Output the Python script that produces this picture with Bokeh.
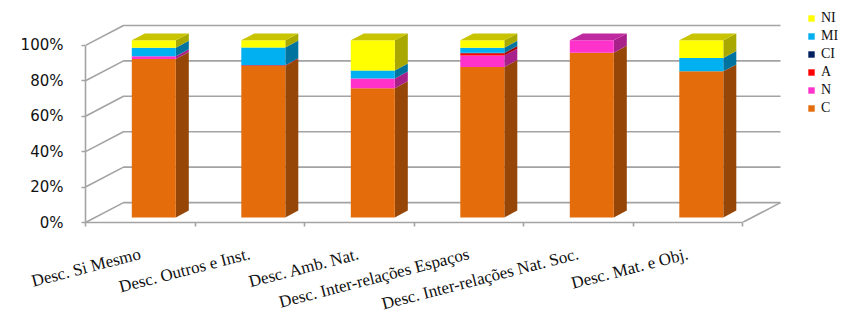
from bokeh.plotting import figure
from bokeh.models import Range1d, FixedTicker, Legend, LegendItem
from bokeh.embed import file_html
from bokeh.resources import INLINE
import math

# ---- data -------------------------------------------------------------
categories = ["Desc. Si Mesmo", "Desc. Outros e Inst.", "Desc. Amb. Nat.",
              "Desc. Inter-relações Espaços", "Desc. Inter-relações Nat. Soc.",
              "Desc. Mat. e Obj."]
series_names = ["C", "N", "A", "CI", "MI", "NI"]          # bottom -> top
C = [89.5, 85.5, 73.0, 85.0, 93.0, 82.5]
N = [1.5, 0.0, 5.5, 6.4, 7.0, 0.0]
A = [0.0, 0.5, 0.0, 1.3, 0.0, 0.0]
CI = [0.0, 0.0, 0.0, 0.3, 0.0, 0.0]
MI = [4.8, 10.0, 4.5, 2.8, 0.0, 7.5]
NI = [4.2, 4.0, 17.0, 4.2, 0.0, 10.0]
series_values = [C, N, A, CI, MI, NI]
y_ticks = [0, 20, 40, 60, 80, 100]
y_tick_labels = ["0%", "20%", "40%", "60%", "80%", "100%"]

# ---- styling ----------------------------------------------------------
front_colors = ["#E46C0A", "#FF33CC", "#FF0000", "#002060", "#00B0F0", "#FFFF00"]
side_colors = ["#964607", "#A8208A", "#A80000", "#001440", "#00749E", "#A8A800"]
top_colors = ["#C05A08", "#C02AA0", "#C80000", "#001A50", "#0090C4", "#C8C400"]
GRID_COLOR = "#A3A3A3"

W, H = 847, 325
LEFT_PX, TOP_PX, BASE_PX = 85, 10, 223
PX_PER_CAT = 109.5
PX_PER_PCT = 1.78

# 3-D projection offsets, expressed in data units
WX, WY = 38 / PX_PER_CAT, 20 / PX_PER_PCT          # depth of the walls
SFX, SFY = 9.5 / PX_PER_CAT, 5 / PX_PER_PCT        # bar front plane
BDX, BDY = 13 / PX_PER_CAT, 7 / PX_PER_PCT         # bar depth
BAR_L, BAR_W = 36.8 / PX_PER_CAT, 44 / PX_PER_CAT

n_cat = len(categories)

p = figure(width=W, height=H, output_backend="svg", toolbar_location=None,
           x_range=Range1d(0, (W - LEFT_PX) / PX_PER_CAT),
           y_range=Range1d(0, (BASE_PX - TOP_PX) / PX_PER_PCT),
           min_border_left=LEFT_PX, min_border_right=0,
           min_border_top=TOP_PX, min_border_bottom=H - BASE_PX)
p.outline_line_color = None
p.background_fill_color = "white"
p.border_fill_color = "white"
p.xgrid.visible = False
p.ygrid.visible = False

# ---- walls / gridlines ----------------------------------------------------
grid_xs = [[0, WX, n_cat + WX] for t in y_ticks]
grid_ys = [[t, t + WY, t + WY] for t in y_ticks]
grid_xs.append([n_cat, n_cat + WX])
grid_ys.append([0, WY])
p.multi_line(grid_xs, grid_ys, line_color=GRID_COLOR, line_width=1.6)

# ---- stacked 3-D bars -------------------------------------------------------
bottoms = [0.0] * n_cat
front_renderers = []
for k, (name, vals) in enumerate(zip(series_names, series_values)):
    fx, fy, sx, sy = [], [], [], []
    for i, v in enumerate(vals):
        b = bottoms[i]
        t = b + v
        x0 = i + BAR_L + SFX
        x1 = x0 + BAR_W
        fx.append([x0, x1, x1, x0])
        fy.append([b + SFY, b + SFY, t + SFY, t + SFY])
        sx.append([x1, x1 + BDX, x1 + BDX, x1])
        sy.append([b + SFY, b + SFY + BDY, t + SFY + BDY, t + SFY])
        bottoms[i] = t
    p.patches(sx, sy, fill_color=side_colors[k], line_color=None)
    r = p.patches(fx, fy, fill_color=front_colors[k], line_color=None)
    front_renderers.append((name, r))

# top faces take the colour of the highest non-empty segment
tx, ty, tc = [], [], []
for i in range(n_cat):
    top_k = max(k for k in range(len(series_values)) if series_values[k][i] > 0)
    T = bottoms[i] + SFY
    x0 = i + BAR_L + SFX
    x1 = x0 + BAR_W
    tx.append([x0, x1, x1 + BDX, x0 + BDX])
    ty.append([T, T, T + BDY, T + BDY])
    tc.append(top_colors[top_k])
p.patches(tx, ty, fill_color=tc, line_color=None)

# ---- axes -------------------------------------------------------------------
yax = p.yaxis[0]
yax.ticker = FixedTicker(ticks=y_ticks)
yax.major_label_overrides = {t: lab for t, lab in zip(y_ticks, y_tick_labels)}
yax.bounds = (0, 100)
yax.axis_line_color = GRID_COLOR
yax.axis_line_width = 1.6
yax.major_tick_line_color = GRID_COLOR
yax.major_tick_line_width = 1.6
yax.major_tick_out = 4
yax.major_tick_in = 0
yax.minor_tick_line_color = None
yax.major_label_standoff = 18
yax.major_label_text_font = "DejaVu Sans"
yax.major_label_text_font_size = "15px"
yax.major_label_text_color = "#111111"

# category names sit on major ticks (at the centres); the short tick marks
# at the category boundaries are the minor ticks
centers = [i + 0.5 for i in range(n_cat)]
xax = p.xaxis[0]
xax.ticker = FixedTicker(ticks=centers, minor_ticks=list(range(n_cat + 1)))
xax.major_label_overrides = {c: lab for c, lab in zip(centers, categories)}
xax.major_label_orientation = math.radians(14.5)
xax.bounds = (0, n_cat)
xax.axis_line_color = GRID_COLOR
xax.axis_line_width = 1.6
xax.major_tick_line_color = None
xax.major_tick_out = 0
xax.major_tick_in = 0
xax.minor_tick_line_color = GRID_COLOR
xax.minor_tick_line_width = 1.6
xax.minor_tick_out = 4
xax.minor_tick_in = 0
xax.major_label_standoff = 27
xax.major_label_text_font = "Liberation Serif"
xax.major_label_text_font_size = "17px"
xax.major_label_text_color = "#111111"

# ---- legend -----------------------------------------------------------------
items = [LegendItem(label=name, renderers=[r]) for name, r in reversed(front_renderers)]
legend = Legend(items=items, location=(722, 106), orientation="vertical",
                glyph_width=8, glyph_height=8, label_height=10, spacing=2,
                label_standoff=6, padding=0, margin=0,
                label_text_font="Liberation Serif", label_text_font_size="14px",
                label_text_color="#111111",
                background_fill_alpha=0, border_line_alpha=0)
p.add_layout(legend, "center")

open("out.html", "w").write(file_html(p, INLINE))
